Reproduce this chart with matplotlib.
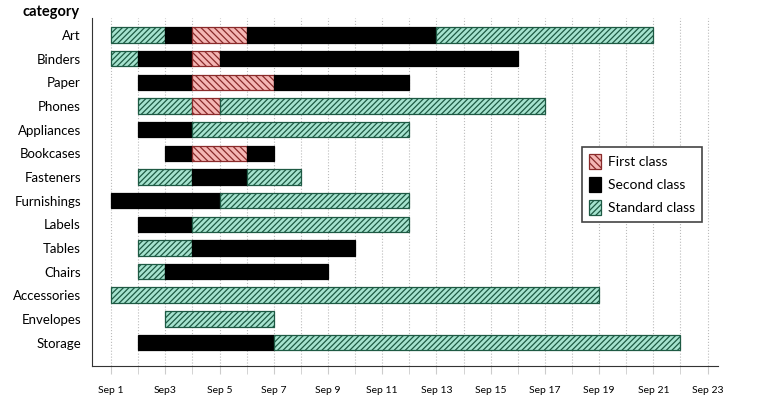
import matplotlib.pyplot as plt
import numpy as np

plt.rcParams['font.family'] = ['Lato', 'DejaVu Sans']
plt.rcParams['hatch.linewidth'] = 0.9

# categories top to bottom
categories = ['Art', 'Binders', 'Paper', 'Phones', 'Appliances', 'Bookcases', 'Fasteners',
              'Furnishings', 'Labels', 'Tables', 'Chairs', 'Accessories', 'Envelopes', 'Storage']

# segments: category, start day, end day (September), ship mode
seg_cat = ['Art', 'Art', 'Art', 'Art', 'Art',
           'Binders', 'Binders', 'Binders', 'Binders',
           'Paper', 'Paper', 'Paper',
           'Phones', 'Phones', 'Phones',
           'Appliances', 'Appliances',
           'Bookcases', 'Bookcases', 'Bookcases',
           'Fasteners', 'Fasteners', 'Fasteners',
           'Furnishings', 'Furnishings',
           'Labels', 'Labels',
           'Tables', 'Tables',
           'Chairs', 'Chairs',
           'Accessories',
           'Envelopes',
           'Storage', 'Storage']
seg_start = [1, 3, 4, 6, 13,
             1, 2, 4, 5,
             2, 4, 7,
             2, 4, 5,
             2, 4,
             3, 4, 6,
             2, 4, 6,
             1, 5,
             2, 4,
             2, 4,
             2, 3,
             1,
             3,
             2, 7]
seg_end = [3, 4, 6, 13, 21,
           2, 4, 5, 16,
           4, 7, 12,
           4, 5, 17,
           4, 12,
           4, 6, 7,
           4, 6, 8,
           5, 12,
           4, 12,
           4, 10,
           3, 9,
           19,
           7,
           7, 22]
seg_class = ['Standard', 'Second', 'First', 'Second', 'Standard',
             'Standard', 'Second', 'First', 'Second',
             'Second', 'First', 'Second',
             'Standard', 'First', 'Standard',
             'Second', 'Standard',
             'Second', 'First', 'Second',
             'Standard', 'Second', 'Standard',
             'Second', 'Standard',
             'Second', 'Standard',
             'Standard', 'Second',
             'Standard', 'Second',
             'Standard',
             'Standard',
             'Second', 'Standard']

tick_days = [1, 3, 5, 7, 9, 11, 13, 15, 17, 19, 21, 23]
tick_labels = ['Sep 1', 'Sep3', 'Sep 5', 'Sep 7', 'Sep 9', 'Sep 11', 'Sep 13',
               'Sep 15', 'Sep 17', 'Sep 19', 'Sep 21', 'Sep 23']

styles = {
    'First': dict(color='#f4b6b4', edgecolor='#8a2b2b', hatch='\\\\\\\\\\', label='First class'),
    'Second': dict(color='black', edgecolor='black', hatch=None, label='Second class'),
    'Standard': dict(color='#a6e3cf', edgecolor='#1e5a44', hatch='//////', label='Standard class'),
}

fig = plt.figure(figsize=(7.61, 3.98), dpi=100)
ax = fig.add_axes([0.121, 0.080, 0.822, 0.875])

ypos = {c: i for i, c in enumerate(categories)}
done = set()
for c, s, e, k in zip(seg_cat, seg_start, seg_end, seg_class):
    st = styles[k]
    lab = st['label'] if k not in done else None
    done.add(k)
    ax.barh(ypos[c], e - s, left=s, height=0.65, color=st['color'], edgecolor=st['edgecolor'],
            hatch=st['hatch'], linewidth=0.9, label=lab, zorder=3)

ax.set_ylim(len(categories), -0.72)
ax.set_xlim(0.3, 23.37)
ax.set_yticks(range(len(categories)))
ax.set_yticklabels(categories, fontsize=9.5)
ax.tick_params(axis='y', length=0, pad=8)
ax.set_xticks(tick_days)
ax.set_xticklabels(tick_labels, fontsize=7.5)
ax.set_xticks(np.arange(1, 24), minor=True)
ax.tick_params(axis='x', which='both', length=6, color='#cccccc', pad=8)
ax.grid(axis='x', which='both', color='#bbbbbb', linestyle=':', linewidth=0.8, zorder=0)

for side in ['top', 'right']:
    ax.spines[side].set_visible(False)
ax.spines['left'].set_color('#333333')
ax.spines['bottom'].set_color('#333333')

fig.text(80 / 761, 1 - 12 / 398, 'category', ha='right', va='center',
         fontsize=10.5, fontweight='bold')

handles, labels = ax.get_legend_handles_labels()
order = [labels.index(l) for l in ['First class', 'Second class', 'Standard class']]
leg = ax.legend([handles[i] for i in order], [labels[i] for i in order],
                loc='upper left', bbox_to_anchor=(0.772, 0.648), fontsize=10,
                fancybox=False, framealpha=1, edgecolor='#444444',
                handlelength=0.9, handleheight=1.25, handletextpad=0.5,
                labelspacing=0.6, borderpad=0.5)
leg.get_frame().set_linewidth(1.2)

plt.savefig('out.png', dpi=100)
